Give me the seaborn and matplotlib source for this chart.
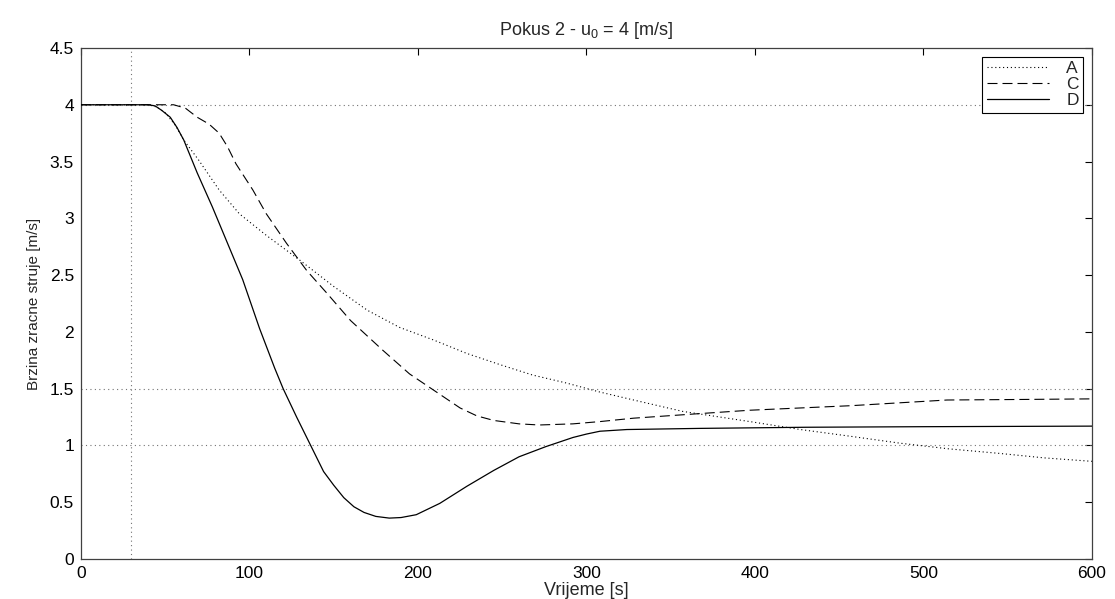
import matplotlib
matplotlib.use('Agg')
import matplotlib.pyplot as plt
import seaborn as sns

# series (time [s], speed [m/s])
a_t = [0, 40, 45, 50, 56, 61, 70, 82, 94, 110, 130, 150, 170, 189, 209, 229, 249, 268, 288,
       308, 328, 357, 397, 427, 457, 486, 515, 545, 572, 600]
a_v = [4, 4, 3.98, 3.93, 3.82, 3.69, 3.51, 3.25, 3.04, 2.85, 2.63, 2.40, 2.19, 2.04, 1.93,
       1.81, 1.71, 1.62, 1.55, 1.47, 1.40, 1.30, 1.21, 1.14, 1.08, 1.02, 0.97, 0.93, 0.89, 0.86]

c_t = [0, 55, 62, 69, 76, 82, 87, 92, 102, 110, 122, 134, 146, 160, 179, 195, 209, 225, 235,
       245, 260, 272, 292, 308, 328, 367, 397, 427, 457, 514, 560, 600]
c_v = [4, 4, 3.97, 3.89, 3.83, 3.75, 3.63, 3.48, 3.25, 3.04, 2.78, 2.54, 2.34, 2.10, 1.84,
       1.63, 1.49, 1.33, 1.26, 1.22, 1.19, 1.18, 1.19, 1.21, 1.24, 1.28, 1.31, 1.33, 1.35,
       1.40, 1.405, 1.41]

d_t = [0, 40, 44, 48, 53, 57, 61, 69, 78, 87, 96, 106, 115, 120, 128, 137, 144, 150, 156,
       162, 168, 175, 183, 190, 199, 213, 229, 245, 260, 276, 292, 300, 308, 324, 367, 430,
       500, 600]
d_v = [4, 4, 3.99, 3.95, 3.89, 3.80, 3.69, 3.40, 3.10, 2.78, 2.46, 2.03, 1.68, 1.50, 1.25,
       0.98, 0.77, 0.65, 0.54, 0.46, 0.41, 0.375, 0.36, 0.365, 0.39, 0.49, 0.64, 0.78, 0.90,
       0.99, 1.07, 1.10, 1.125, 1.14, 1.15, 1.16, 1.165, 1.17]

ref_h = [4, 1.5, 1]
ref_v = [30]

x_ticks = [0, 100, 200, 300, 400, 500, 600]
y_ticks = [0, 0.5, 1, 1.5, 2, 2.5, 3, 3.5, 4, 4.5]
y_tick_labels = ['0', '0.5', '1', '1.5', '2', '2.5', '3', '3.5', '4', '4.5']

sns.set_style('white')
plt.rcParams['font.family'] = ['Liberation Sans', 'DejaVu Sans']
plt.rcParams['mathtext.fontset'] = 'custom'
plt.rcParams['mathtext.rm'] = 'Liberation Sans'

fig = plt.figure(figsize=(11.15, 5.99), dpi=100)
ax = fig.add_axes([0.0726, 0.0668, 0.9067, 0.8531])

for y in ref_h:
    ax.axhline(y, color='0.45', lw=0.8, ls=(0, (1, 3)), zorder=1)
for x in ref_v:
    ax.axvline(x, color='0.45', lw=0.8, ls=(0, (1, 3)), zorder=1)

sns.lineplot(x=a_t, y=a_v, ax=ax, color='k', lw=0.8, ls=(0, (1, 2.5)), label='A', zorder=3)
sns.lineplot(x=c_t, y=c_v, ax=ax, color='k', lw=0.8, ls=(0, (9, 4.5)), label='C', zorder=3)
sns.lineplot(x=d_t, y=d_v, ax=ax, color='k', lw=0.9, ls='-', label='D', zorder=3)

ax.set_xlim(0, 600)
ax.set_ylim(0, 4.5)
ax.set_xticks(x_ticks)
ax.set_yticks(y_ticks)
ax.set_xticklabels([str(t) for t in x_ticks])
ax.set_yticklabels(y_tick_labels)
ax.tick_params(direction='in', length=5, width=0.8, top=True, right=True,
               labelsize=12.5, colors='k', pad=5)
for s in ax.spines.values():
    s.set_color('0.25')
    s.set_linewidth(0.9)

ax.set_title('Pokus 2 - u$_\\mathregular{0}$ = 4 [m/s]', fontsize=13, pad=9)
ax.set_xlabel('Vrijeme [s]', fontsize=13, labelpad=1)
ax.set_ylabel('Brzina zracne struje [m/s]', fontsize=11, labelpad=6)

leg = ax.legend(loc='upper right', fontsize=12.5, frameon=True, fancybox=False,
                framealpha=1, edgecolor='k', handlelength=3.6, labelspacing=0.05,
                borderaxespad=0.5, borderpad=0.25, handletextpad=1.0)
leg.get_frame().set_linewidth(0.8)

fig.savefig('out.png', dpi=100)
